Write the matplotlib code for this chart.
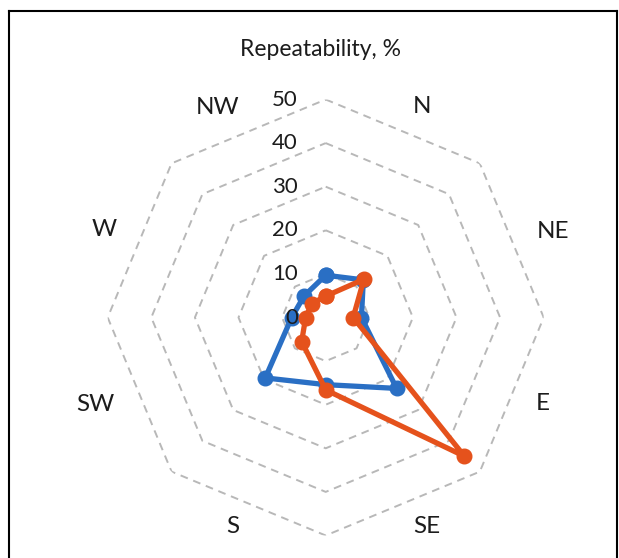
import numpy as np
import matplotlib.pyplot as plt
from matplotlib.lines import Line2D

# Direcciones (8 categorias) y repetibilidad en %
directions = ['N', 'NE', 'E', 'SE', 'S', 'SW', 'W', 'NW']
blue_values = [9.7, 12.2, 8.2, 23.0, 15.4, 19.6, 7.8, 7.0]
orange_values = [4.9, 12.4, 6.3, 45.0, 16.6, 7.8, 4.6, 4.5]
ring_values = [10, 20, 30, 40, 50]
tick_labels = ['0', '10', '20', '30', '40', '50']

blue = '#2a6fc4'
orange = '#e5521c'
txt_color = '#1c1c1c'

W, H = 619, 558
fig = plt.figure(figsize=(W / 100, H / 100), dpi=100)
plt.rcParams['font.family'] = ['Lato', 'DejaVu Sans']

# centro y radio en pixeles
cx, cy, R = 325.7, 317.5, 218
ax = fig.add_axes([(cx - R) / W, 1 - (cy + R) / H, 2 * R / W, 2 * R / H],
                  projection='polar')
ax.set_theta_zero_location('N')
ax.set_theta_direction(-1)
ax.set_ylim(0, 50)
ax.grid(False)
ax.set_xticks([])
ax.set_yticks([])
ax.spines['polar'].set_visible(False)
ax.patch.set_alpha(0)

angles = np.deg2rad(np.arange(len(directions)) * 45.0)
closed = np.append(angles, angles[0])

# anillos octagonales punteados
for rv in ring_values:
    ax.plot(closed, [rv] * len(closed), ls=(0, (4, 3)), color='#b8b8b8', lw=1.4, zorder=1)

# series
for vals, col in [(blue_values, blue), (orange_values, orange)]:
    v = np.append(vals, vals[0])
    ax.plot(closed, v, color=col, lw=3.8, marker='o', ms=10.5, zorder=3,
            solid_joinstyle='round', clip_on=False)

# etiquetas de escala
for i, lab in enumerate(tick_labels):
    ax.annotate(lab, xy=(0, i * 10), xytext=(-20, 0), textcoords='offset points',
                ha='right', va='center', fontsize=16, color=txt_color, zorder=5)

# etiquetas de direccion, colocadas entre los vertices como en el original
label_angles = [24.6, 69.2, 111.7, 154.3, 203.9, 249.4, 291.7, 332.7]
label_radii = [53.1, 55.8, 53.6, 53.3, 52.5, 56.5, 54.6, 54.3]
for d, a, r in zip(directions, label_angles, label_radii):
    ax.text(np.deg2rad(a), r, d, ha='center', va='center', fontsize=17.5,
            color=txt_color)

fig.text(321 / W, 1 - 50 / H, 'Repeatability, %', ha='center', va='center',
         fontsize=16.5, color=txt_color)

# marco
x0, x1, y0 = 9 / W, 617 / W, 1 - 11 / H
for xs, ys in [([x0, x0], [0, y0]), ([x0, x1], [y0, y0]), ([x1, x1], [0, y0])]:
    fig.add_artist(Line2D(xs, ys, color='black', lw=1.5, transform=fig.transFigure))

fig.savefig('out.png', dpi=100)
